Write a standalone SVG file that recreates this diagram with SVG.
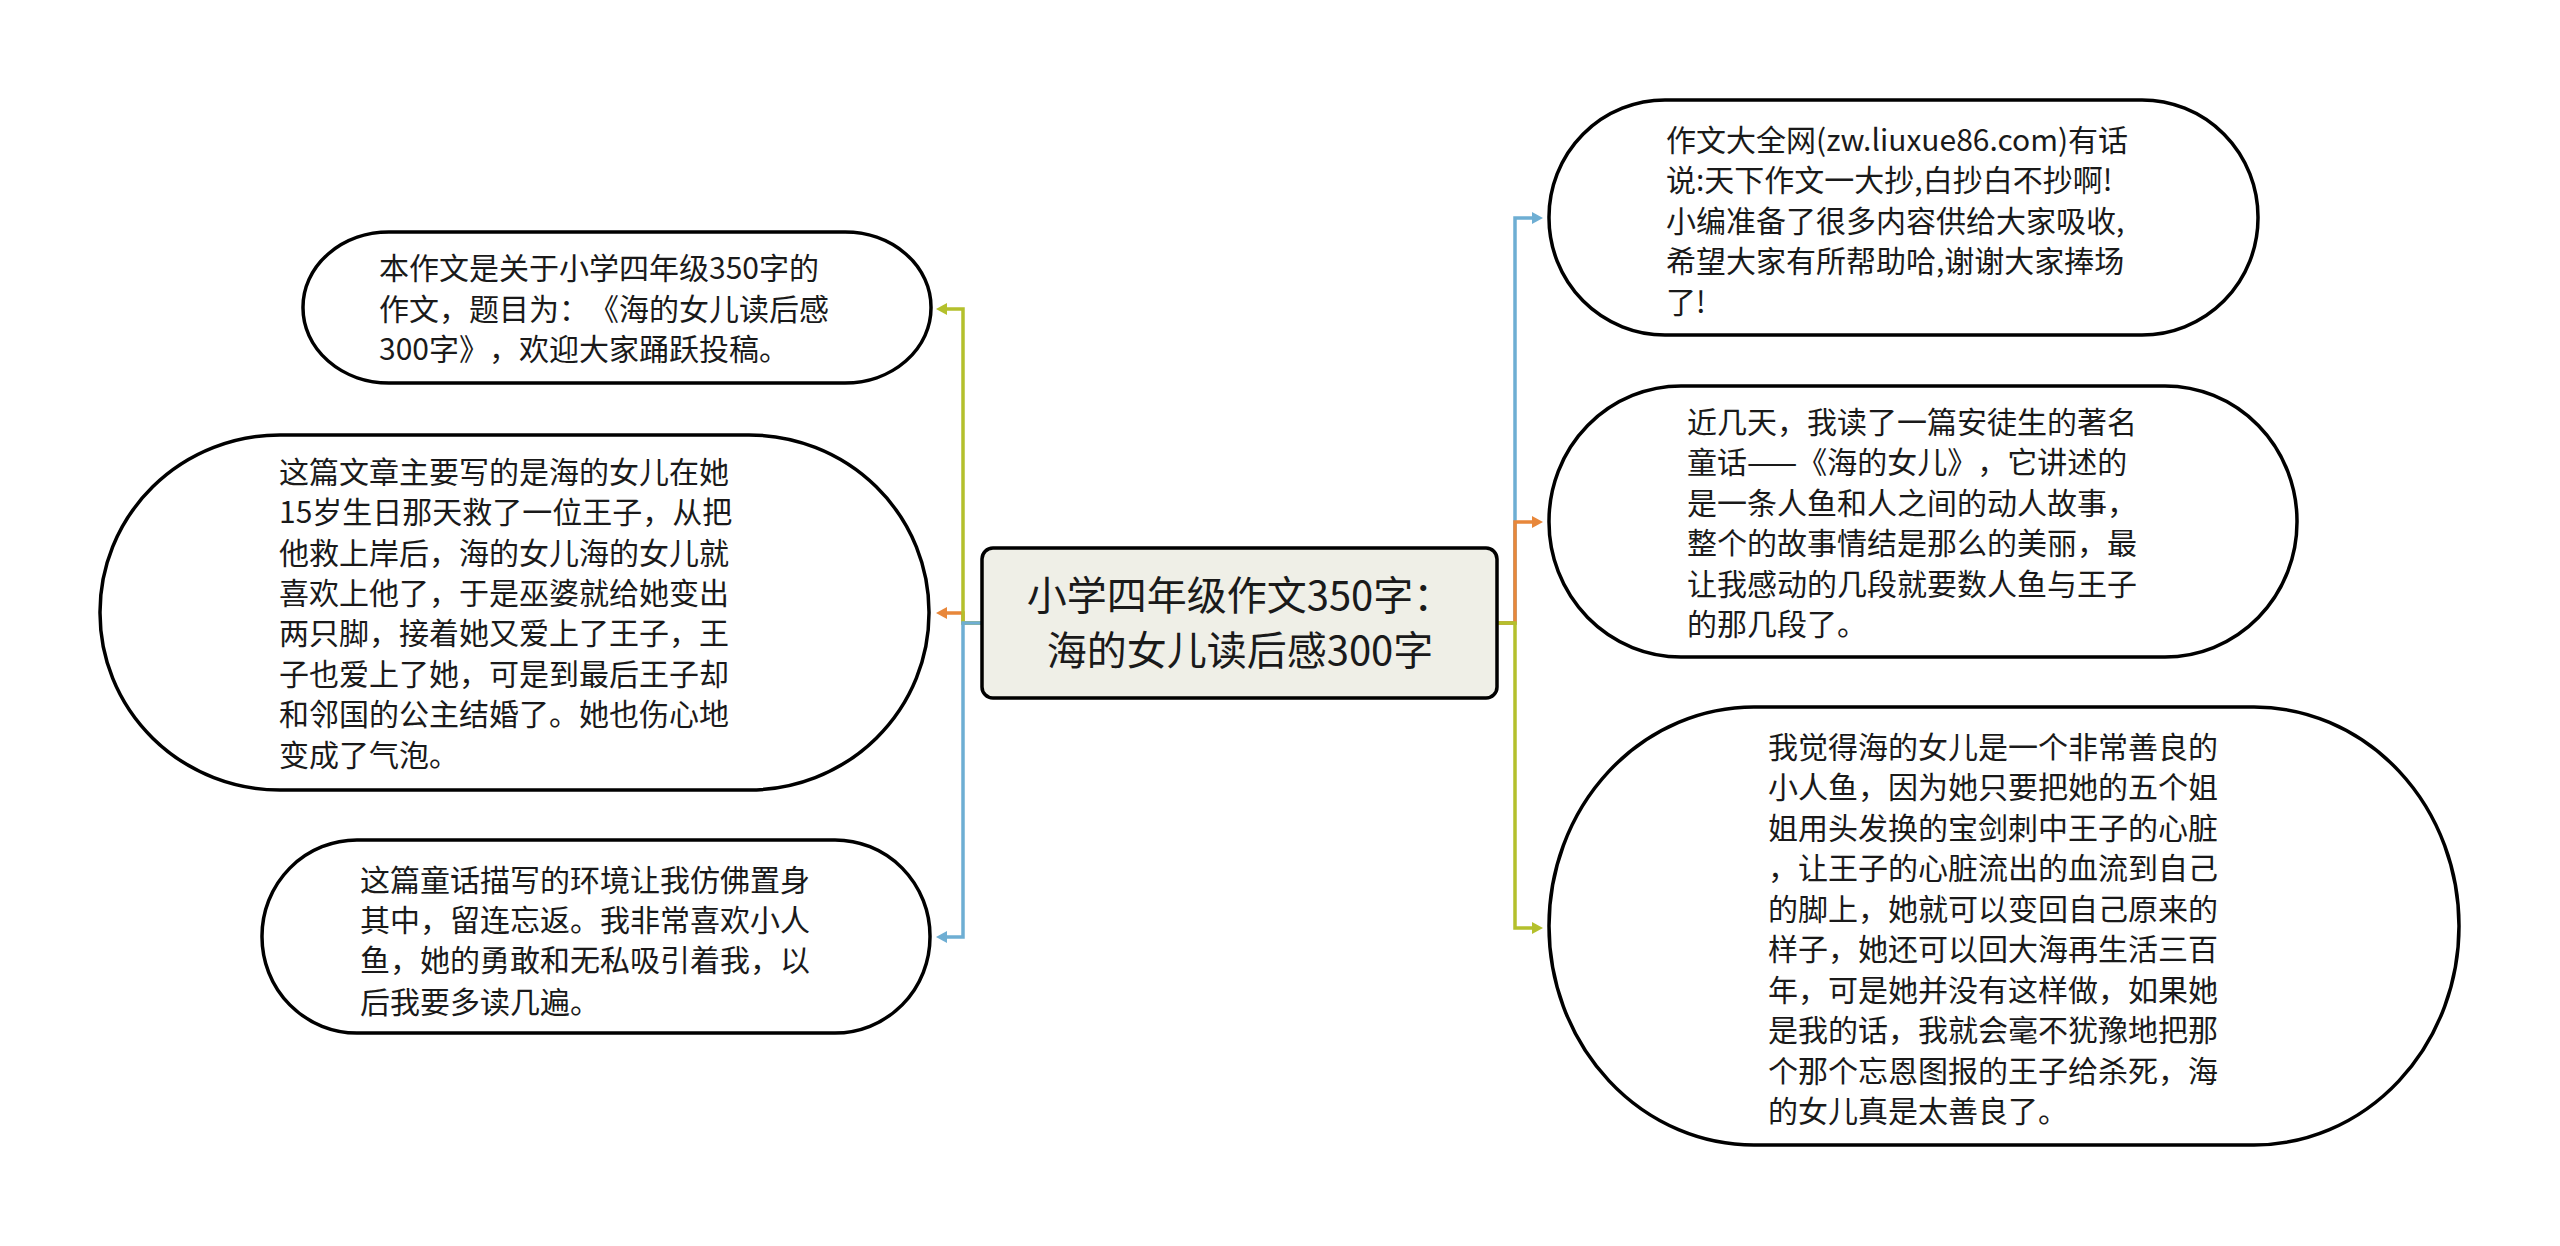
<svg xmlns="http://www.w3.org/2000/svg" width="2560" height="1246" viewBox="0 0 2560 1246">
<style>
.bg{fill:#ffffff}
.node{fill:#ffffff;stroke:#000000;stroke-width:3.5}
.root{fill:#efefe7;stroke:#000000;stroke-width:3.5}
text{text-spacing-trim:space-all}
.t{font-family:"Noto Sans CJK SC","Noto Sans",sans-serif;font-size:30px;fill:#1a1a1a}
.rt{font-family:"Noto Sans CJK SC","Noto Sans",sans-serif;font-size:40px;fill:#1a1a1a;text-anchor:middle}
.c{fill:none;stroke-width:3.5;stroke-linejoin:miter}
.g{stroke:#b4c02c}
.o{stroke:#e8873a}
.b{stroke:#6eaed3}
</style>
<defs>
<marker id="ag" markerUnits="userSpaceOnUse" markerWidth="12" markerHeight="12" refX="1" refY="6" orient="auto"><path d="M0,0 L11,6 L0,12 z" fill="#b4c02c"/></marker>
<marker id="ao" markerUnits="userSpaceOnUse" markerWidth="12" markerHeight="12" refX="1" refY="6" orient="auto"><path d="M0,0 L11,6 L0,12 z" fill="#e8873a"/></marker>
<marker id="ab" markerUnits="userSpaceOnUse" markerWidth="12" markerHeight="12" refX="1" refY="6" orient="auto"><path d="M0,0 L11,6 L0,12 z" fill="#6eaed3"/></marker>
</defs>
<rect class="bg" x="0" y="0" width="2560" height="1246"/>
<g id="connectors">
<path class="c o" d="M982,623 H963 V613 H946" marker-end="url(#ao)"/>
<path class="c g" d="M982,623 H963 V309 H946" marker-end="url(#ag)"/>
<path class="c b" d="M982,623 H963 V937 H946" marker-end="url(#ab)"/>
<path class="c b" d="M1497,623 H1515 V218 H1533" marker-end="url(#ab)"/>
<path class="c o" d="M1497,623 H1515 V522 H1533" marker-end="url(#ao)"/>
<path class="c g" d="M1497,623 H1515 V928 H1533" marker-end="url(#ag)"/>
</g>
<g id="root">
<rect class="root" x="982" y="548" width="515" height="150" rx="11" ry="11"/>
<text class="rt" x="1240" y="610">小学四年级作文350字：</text>
<text class="rt" x="1240" y="665">海的女儿读后感300字</text>
</g>
<g id="node1">
<rect class="node" x="303" y="232" width="628" height="151" rx="86" ry="75"/>
<text class="t" x="379" y="279">本作文是关于小学四年级350字的</text>
<text class="t" x="379" y="320">作文，题目为：《海的女儿读后感</text>
<text class="t" x="379" y="360">300字》，欢迎大家踊跃投稿。</text>
</g>
<g id="node2">
<rect class="node" x="100" y="435" width="829" height="355" rx="180" ry="177"/>
<text class="t" x="279" y="483">这篇文章主要写的是海的女儿在她</text>
<text class="t" x="279" y="523">15岁生日那天救了一位王子，从把</text>
<text class="t" x="279" y="564">他救上岸后，海的女儿海的女儿就</text>
<text class="t" x="279" y="604">喜欢上他了，于是巫婆就给她变出</text>
<text class="t" x="279" y="644">两只脚，接着她又爱上了王子，王</text>
<text class="t" x="279" y="685">子也爱上了她，可是到最后王子却</text>
<text class="t" x="279" y="725">和邻国的公主结婚了。她也伤心地</text>
<text class="t" x="279" y="766">变成了气泡。</text>
</g>
<g id="node3">
<rect class="node" x="262" y="840" width="668" height="193" rx="95" ry="96"/>
<text class="t" x="360" y="891">这篇童话描写的环境让我仿佛置身</text>
<text class="t" x="360" y="931">其中，留连忘返。我非常喜欢小人</text>
<text class="t" x="360" y="971">鱼，她的勇敢和无私吸引着我，以</text>
<text class="t" x="360" y="1013">后我要多读几遍。</text>
</g>
<g id="node4">
<rect class="node" x="1549" y="100" width="709" height="235" rx="116" ry="117"/>
<text class="t" x="1666" y="151">作文大全网(zw.liuxue86.com)有话</text>
<text class="t" x="1666" y="191">说:天下作文一大抄,白抄白不抄啊!</text>
<text class="t" x="1666" y="232">小编准备了很多内容供给大家吸收,</text>
<text class="t" x="1666" y="272">希望大家有所帮助哈,谢谢大家捧场</text>
<text class="t" x="1666" y="313">了!</text>
</g>
<g id="node5">
<rect class="node" x="1549" y="386" width="748" height="271" rx="132" ry="135"/>
<text class="t" x="1687" y="433">近几天，我读了一篇安徒生的著名</text>
<text class="t" x="1687" y="473">童话——《海的女儿》，它讲述的</text>
<text class="t" x="1687" y="514">是一条人鱼和人之间的动人故事，</text>
<text class="t" x="1687" y="554">整个的故事情结是那么的美丽，最</text>
<text class="t" x="1687" y="595">让我感动的几段就要数人鱼与王子</text>
<text class="t" x="1687" y="635">的那几段了。</text>
</g>
<g id="node6">
<rect class="node" x="1549" y="707" width="910" height="438" rx="205" ry="219"/>
<text class="t" x="1768" y="758">我觉得海的女儿是一个非常善良的</text>
<text class="t" x="1768" y="798">小人鱼，因为她只要把她的五个姐</text>
<text class="t" x="1768" y="839">姐用头发换的宝剑刺中王子的心脏</text>
<text class="t" x="1768" y="879">，让王子的心脏流出的血流到自己</text>
<text class="t" x="1768" y="920">的脚上，她就可以变回自己原来的</text>
<text class="t" x="1768" y="960">样子，她还可以回大海再生活三百</text>
<text class="t" x="1768" y="1001">年，可是她并没有这样做，如果她</text>
<text class="t" x="1768" y="1041">是我的话，我就会毫不犹豫地把那</text>
<text class="t" x="1768" y="1082">个那个忘恩图报的王子给杀死，海</text>
<text class="t" x="1768" y="1122">的女儿真是太善良了。</text>
</g>
</svg>
